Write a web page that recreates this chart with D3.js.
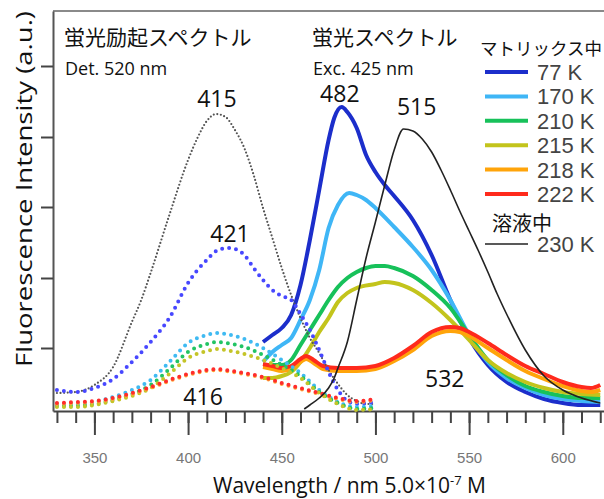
<!DOCTYPE html>
<html>
<head>
<meta charset="utf-8">
<script src="https://cdn.jsdelivr.net/npm/d3@7"></script>
<style>
  body { margin: 0; background: #fff; }
  svg { display: block; }
  .jp { font-family: "Noto Sans CJK JP", sans-serif; }
  .lat { font-family: "Open Sans", "DejaVu Sans", sans-serif; }
</style>
</head>
<body>
<div id="chart"></div>
<script>
// wavelengths (nm) of the excitation spectra (dotted)
var exWl = [330, 340, 350, 360, 370, 380, 390, 400, 410, 416, 420, 430, 440, 450, 460, 470, 480, 490, 500];
var ex170 = [7, 7, 9, 14, 21, 31, 49, 68, 76, 78, 77, 72, 63, 51, 38, 21, 9, 4, 5];
var ex210 = [5, 5, 7, 11, 17, 26, 42, 59, 67, 69, 68, 64, 56, 46, 35, 19, 8, 2, 3];
var ex215 = [4, 4, 6, 10, 15, 23, 37, 53, 60, 62, 61, 57, 51, 43, 33, 18, 7, 1, 2];
var ex218 = [7, 8, 9, 12, 17, 23, 30, 36, 40, 41, 40, 37, 33, 27, 22, 17, 12, 9, 11];
var ex222 = [8, 9, 10, 13, 18, 24, 31, 37, 41, 42, 41, 38, 34, 28, 23, 18, 13, 10, 12];

var ex77Wl = [330, 340, 350, 360, 370, 380, 390, 400, 405, 410, 415, 421, 425, 430, 435, 440, 445, 450, 455, 460, 465, 470, 475, 480, 485, 490, 495, 500];
var ex77 = [21, 19, 23, 32, 49, 69, 93, 128, 141, 151, 160, 163, 162, 156, 143, 131, 121, 115, 111, 97, 81, 61, 39, 21, 10, 7, 8, 9];

var exSolWl = [330, 340, 350, 360, 370, 375, 380, 390, 400, 405, 410, 415, 420, 425, 430, 435, 440, 445, 450, 455, 460, 465, 470, 475, 480, 485, 490, 495, 500];
var exSol = [18, 19, 26, 44, 89, 111, 138, 196, 251, 273, 290, 297, 294, 281, 263, 236, 203, 173, 143, 116, 93, 73, 58, 41, 27, 16, 10, 7, 7];

// emission spectra (solid)
var em77Wl = [440, 445, 450, 455, 460, 465, 470, 475, 478, 482, 485, 490, 495, 500, 505, 510, 520, 530, 540, 550, 560, 570, 580, 590, 600, 610, 620];
var em77 = [69, 76, 83, 96, 126, 171, 221, 271, 293, 304, 299, 283, 256, 239, 226, 215, 191, 156, 111, 73, 46, 29, 19, 12, 8, 6, 6];

var em170Wl = [440, 445, 450, 455, 460, 465, 470, 475, 480, 486, 490, 495, 500, 510, 520, 530, 540, 550, 560, 570, 580, 590, 600, 610, 620];
var em170 = [49, 59, 66, 73, 91, 111, 141, 183, 206, 218, 216, 211, 203, 184, 164, 141, 111, 76, 49, 33, 23, 16, 12, 10, 9];

var em210Wl = [440, 450, 455, 460, 465, 470, 475, 480, 485, 490, 495, 500, 505, 510, 520, 530, 540, 550, 560, 570, 580, 590, 600, 610, 620];
var em210 = [46, 46, 51, 66, 81, 96, 111, 124, 133, 139, 143, 145, 145, 143, 135, 121, 103, 76, 51, 36, 25, 19, 15, 13, 13];

var em215Wl = [440, 445, 450, 455, 460, 465, 470, 475, 480, 485, 490, 500, 505, 510, 520, 530, 540, 550, 560, 570, 580, 590, 600, 610, 620];
var em215 = [33, 33, 35, 39, 49, 63, 79, 93, 109, 118, 123, 127, 129, 128, 121, 108, 91, 71, 51, 38, 29, 23, 19, 17, 16];

var emRedWl = [440, 445, 450, 455, 460, 463, 467, 472, 480, 490, 500, 510, 520, 530, 540, 545, 550, 560, 570, 580, 590, 600, 610, 615, 620];
var em218 = [44, 42, 40, 42, 49, 52, 48, 42, 40, 40, 42, 50, 61, 75, 80, 79, 75, 63, 51, 40, 32, 25, 20, 19, 21];
var em222 = [47, 45, 43, 45, 52, 55, 51, 45, 43, 43, 45, 53, 65, 79, 84, 83, 79, 68, 56, 45, 37, 29, 24, 23, 26];

var emSolWl = [462, 465, 470, 475, 478, 480, 485, 490, 495, 500, 505, 510, 515, 520, 525, 530, 535, 540, 545, 550, 555, 560, 565, 570, 580, 590, 600, 610, 620];
var emSol = [2, 6, 13, 23, 33, 43, 69, 111, 153, 189, 226, 261, 282, 280, 272, 259, 241, 221, 200, 180, 160, 139, 117, 97, 61, 35, 21, 13, 8];

var xMinor = d3.range(330, 621, 10);
var xMajor = [350, 400, 450, 500, 550, 600];
var yTicks = [63, 133, 204, 274, 345];

var legendNames = ["77 K", "170 K", "210 K", "215 K", "218 K", "222 K"];
var colors = ["#1c2ecb", "#3fb6f6", "#17c15a", "#c3c41c", "#ffa40a", "#ff2a1c"];
var dotColors = ["#4747ff", "#3fbaf2", "#22c463", "#c4c428", "#ffa83a", "#ff2c2c"];

var W = 604, H = 499;
var svg = d3.select("#chart").append("svg")
    .attr("width", W)
    .attr("height", H);

var x = d3.scaleLinear().domain([327.9, 622]).range([53, 604]);
var y = d3.scaleLinear().domain([0, 400]).range([411, 11]);

function series(wl, vals) {
    return wl.map(function(w, i) { return {w: w, v: vals[i]}; });
}
var line = d3.line()
    .x(function(d) { return x(d.w); })
    .y(function(d) { return y(d.v); })
    .curve(d3.curveMonotoneX);

// top border
svg.append("line")
    .attr("x1", 53).attr("x2", W)
    .attr("y1", y(400)).attr("y2", y(400))
    .attr("stroke", "#8a8a8a").attr("stroke-width", 2);

// axes
var gx = svg.append("g")
    .attr("transform", "translate(0," + y(0) + ")")
    .call(d3.axisBottom(x).tickValues(xMinor).tickSize(12).tickSizeOuter(0).tickFormat(""));
gx.select(".domain").attr("stroke", "#444").attr("stroke-width", 2);
gx.selectAll(".tick line").attr("stroke", "#444").attr("stroke-width", 2);

var gxMaj = svg.append("g")
    .attr("transform", "translate(0," + y(0) + ")")
    .call(d3.axisBottom(x).tickValues(xMajor).tickSize(24).tickPadding(17).tickSizeOuter(0));
gxMaj.select(".domain").remove();
gxMaj.selectAll(".tick line").attr("stroke", "#444").attr("stroke-width", 2);
gxMaj.selectAll("text")
    .attr("fill", "#777")
    .style("font-family", "Liberation Sans, Arial, sans-serif")
    .style("font-size", "15px");

var gy = svg.append("g")
    .attr("transform", "translate(53,0)")
    .call(d3.axisLeft(y).tickValues(yTicks).tickSize(12).tickSizeOuter(0).tickFormat(""));
gy.select(".domain").attr("stroke", "#555").attr("stroke-width", 2);
gy.selectAll(".tick line").attr("stroke", "#444").attr("stroke-width", 2);

// emission spectra (solid, matrix)
var emData = [series(em77Wl, em77), series(em170Wl, em170), series(em210Wl, em210),
              series(em215Wl, em215), series(emRedWl, em218), series(emRedWl, em222)];
svg.selectAll(".em")
    .data(emData)
    .enter().append("path")
    .attr("class", "em")
    .attr("d", line)
    .attr("fill", "none")
    .attr("stroke", function(d, i) { return colors[i]; })
    .attr("stroke-width", 4)
    .attr("stroke-linejoin", "round");

// excitation spectra (dotted)
svg.append("path")
    .attr("d", line(series(exSolWl, exSol)))
    .attr("fill", "none")
    .attr("stroke", "#555")
    .attr("stroke-width", 2.2)
    .attr("stroke-linecap", "round")
    .attr("stroke-dasharray", "0,3.6");

var exData = [series(ex77Wl, ex77), series(exWl, ex170), series(exWl, ex210),
              series(exWl, ex215), series(exWl, ex218), series(exWl, ex222)];
svg.selectAll(".ex")
    .data(exData)
    .enter().append("path")
    .attr("class", "ex")
    .attr("d", line)
    .attr("fill", "none")
    .attr("stroke", function(d, i) { return dotColors[i]; })
    .attr("stroke-width", 4)
    .attr("stroke-linecap", "round")
    .attr("stroke-dasharray", "0,7");

// solution emission
svg.append("path")
    .attr("d", line(series(emSolWl, emSol)))
    .attr("fill", "none")
    .attr("stroke", "#222")
    .attr("stroke-width", 1.6);

// peak labels
var peaks = [
    {t: "415", w: 415.4, v: 304},
    {t: "421", w: 422.4, v: 169},
    {t: "416", w: 408, v: 6},
    {t: "482", w: 481, v: 309},
    {t: "515", w: 522, v: 296},
    {t: "532", w: 537, v: 24}
];
svg.selectAll(".peak")
    .data(peaks)
    .enter().append("text")
    .attr("class", "peak lat")
    .attr("x", function(d) { return x(d.w); })
    .attr("y", function(d) { return y(d.v); })
    .attr("text-anchor", "middle")
    .attr("fill", "#111")
    .style("font-size", "23px")
    .text(function(d) { return d.t; });

// titles
svg.append("text").attr("class", "jp").attr("x", 64).attr("y", 45)
    .style("font-size", "21px").attr("fill", "#111").text("蛍光励起スペクトル");
svg.append("text").attr("class", "lat").attr("x", 65).attr("y", 75)
    .style("font-size", "18px").attr("fill", "#111").text("Det. 520 nm");
svg.append("text").attr("class", "jp").attr("x", 312).attr("y", 45)
    .style("font-size", "21px").attr("fill", "#111").text("蛍光スペクトル");
svg.append("text").attr("class", "lat").attr("x", 313).attr("y", 75)
    .style("font-size", "18px").attr("fill", "#111").text("Exc. 425 nm");

// legend
svg.append("text").attr("class", "jp").attr("x", 480).attr("y", 55)
    .style("font-size", "17.5px").attr("fill", "#111").text("マトリックス中");
var leg = svg.selectAll(".leg")
    .data(legendNames)
    .enter().append("g")
    .attr("class", "leg")
    .attr("transform", function(d, i) { return "translate(0," + (72 + i * 24.4) + ")"; });
leg.append("line")
    .attr("x1", 485).attr("x2", 528)
    .attr("stroke", function(d, i) { return colors[i]; })
    .attr("stroke-width", 4);
leg.append("text")
    .attr("x", 537).attr("y", 8)
    .attr("fill", "#444")
    .style("font-family", "Liberation Sans, Arial, sans-serif")
    .style("font-size", "22px")
    .text(function(d) { return d; });

svg.append("text").attr("class", "jp").attr("x", 492).attr("y", 231)
    .style("font-size", "20px").attr("fill", "#111").text("溶液中");
svg.append("line")
    .attr("x1", 485).attr("x2", 528).attr("y1", 244).attr("y2", 244)
    .attr("stroke", "#222").attr("stroke-width", 1.6);
svg.append("text").attr("x", 537).attr("y", 252)
    .attr("fill", "#444")
    .style("font-family", "Liberation Sans, Arial, sans-serif")
    .style("font-size", "22px")
    .text("230 K");

// axis titles
svg.append("text").attr("class", "lat")
    .attr("transform", "translate(32,189) rotate(-90)")
    .attr("text-anchor", "middle")
    .attr("fill", "#111")
    .style("font-size", "22px")
    .attr("textLength", 356)
    .attr("lengthAdjust", "spacingAndGlyphs")
    .text("Fluorescence Intensity (a.u.)");

var xt = svg.append("text").attr("class", "lat")
    .attr("x", 213).attr("y", 493)
    .attr("fill", "#111")
    .style("font-size", "21px");
xt.append("tspan").text("Wavelength / nm 5.0×10");
xt.append("tspan").attr("dy", -8).style("font-size", "13px").text("-7");
xt.append("tspan").attr("dy", 8).text(" M");
</script>
</body>
</html>
